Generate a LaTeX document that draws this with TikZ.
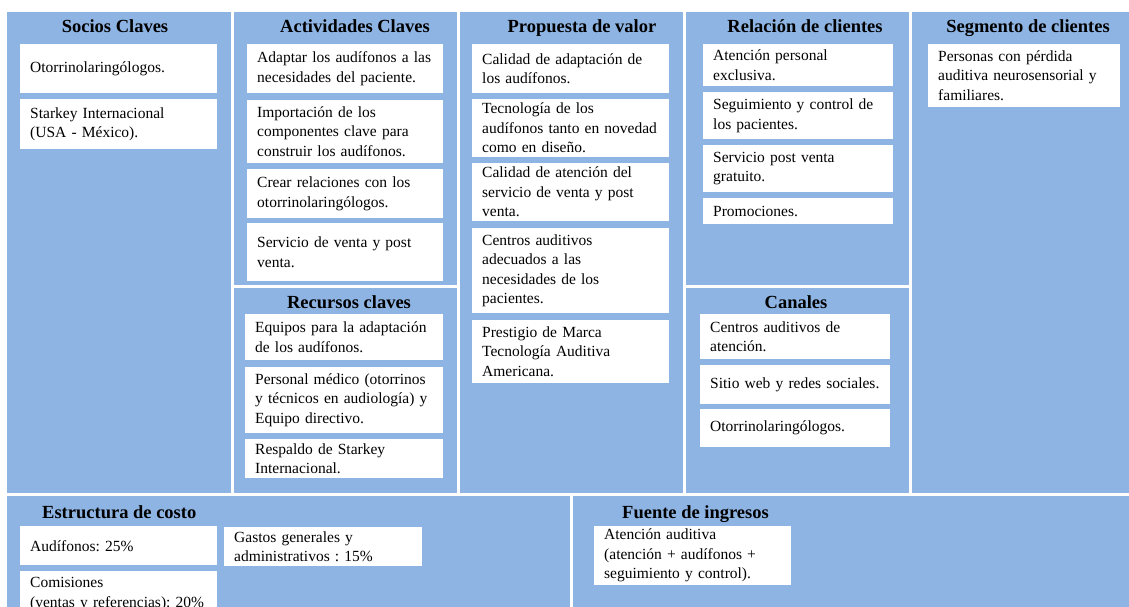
\documentclass[tikz,border=0pt]{standalone}
\usepackage{fontspec}
\setmainfont{Liberation Serif}
\frenchspacing
\definecolor{panelblue}{RGB}{142,180,227}

\begin{document}
\begin{tikzpicture}[x=1pt,y=-1pt,
  panel/.style={fill=panelblue},
  title/.style={font=\bfseries\fontsize{18.5}{22}\selectfont,inner sep=0pt,anchor=base},
  item/.style={fill=white,anchor=north west,inner xsep=10pt,inner ysep=0pt,
    align=left,text width=177pt,font=\fontsize{15.5}{19.5}\selectfont},
  narrow/.style={item,text width=170pt}]

\clip (0,0) rectangle (1129,607);

%draw panels
  \foreach \xa/\ya/\xb/\yb in {7/12/231/493, 234/12/457/285, 234/288/457/493,
      460/12/683/493, 686/12/909/285, 686/288/909/493, 912/12/1129/493,
      7/496/570/607, 573/496/1129/607}
    \fill[panel] (\xa,\ya) rectangle (\xb,\yb);

%socios claves
  \node[title] (tsocios) at (115,33) {Socios Claves};
  \node[item,minimum height=49pt] (socio1) at (20,44) {Otorrinolaringólogos.};
  \node[item,minimum height=50pt] (socio2) at (20,99) {Starkey Internacional\\(USA - México).};

%actividades claves
  \node[title] (tactiv) at (355,33) {Actividades Claves};
  \node[item,text width=176pt,minimum height=49pt] (activ1) at (247,44) {Adaptar los audífonos a las\\necesidades del paciente.};
  \node[item,text width=176pt,minimum height=63pt] (activ2) at (247,100) {Importación de los\\componentes clave para\\construir los audífonos.};
  \node[item,text width=176pt,minimum height=49pt] (activ3) at (247,169) {Crear relaciones con los\\otorrinolaringólogos.};
  \node[item,text width=176pt,minimum height=58pt] (activ4) at (247,223) {Servicio de venta y post\\venta.};

%recursos claves
  \node[title] (trecur) at (349,308) {Recursos claves};
  \node[item,text width=178pt,minimum height=46pt] (recur1) at (245,314) {Equipos para la adaptación\\de los audífonos.};
  \node[item,text width=178pt,minimum height=66pt] (recur2) at (245,367) {Personal médico (otorrinos\\y técnicos en audiología) y\\Equipo directivo.};
  \node[item,text width=178pt,minimum height=39pt] (recur3) at (245,439) {Respaldo de Starkey\\Internacional.};

%propuesta de valor
  \node[title] (tprop) at (582,33) {Propuesta de valor};
  \node[item,minimum height=49pt] (prop1) at (472,44) {Calidad de adaptación de\\los audífonos.};
  \node[item,minimum height=58pt] (prop2) at (472,99) {Tecnología de los\\audífonos tanto en novedad\\como en diseño.};
  \node[item,minimum height=58pt] (prop3) at (472,163) {Calidad de atención del\\servicio de venta y post\\venta.};
  \node[item,minimum height=85pt] (prop4) at (472,228) {Centros auditivos\\adecuados a las\\necesidades de los\\pacientes.};
  \node[item,minimum height=63pt] (prop5) at (472,320) {Prestigio de Marca\\Tecnología Auditiva\\Americana.};

%relacion de clientes
  \node[title] (trel) at (805,33) {Relación de clientes};
  \node[narrow,minimum height=42pt] (rel1) at (703,44) {Atención personal\\exclusiva.};
  \node[narrow,minimum height=47pt] (rel2) at (703,92) {Seguimiento y control de\\los pacientes.};
  \node[narrow,minimum height=47pt] (rel3) at (703,145) {Servicio post venta\\gratuito.};
  \node[narrow,minimum height=26pt] (rel4) at (703,198) {Promociones.};

%canales
  \node[title] (tcan) at (796,308) {Canales};
  \node[narrow,minimum height=45pt] (can1) at (700,314) {Centros auditivos de\\atención.};
  \node[narrow,minimum height=39pt] (can2) at (700,365) {Sitio web y redes sociales.};
  \node[narrow,minimum height=38pt] (can3) at (700,409) {Otorrinolaringólogos.};

%segmento de clientes
  \node[title] (tseg) at (1028,33) {Segmento de clientes};
  \node[item,text width=172pt,minimum height=63pt] (seg1) at (928,44) {Personas con pérdida\\auditiva neurosensorial y\\familiares.};

%estructura de costo
  \node[title,anchor=base west] (test) at (42,518) {Estructura de costo};
  \node[item,minimum height=39pt] (est1) at (20,526) {Audífonos: 25\%};
  \node[item,minimum height=46pt] (est2) at (20,571) {Comisiones\\(ventas y referencias): 20\%};
  \node[item,text width=178pt,minimum height=39pt] (est3) at (224,527) {Gastos generales y\\administrativos : 15\%};

%fuente de ingresos
  \node[title,anchor=base west] (tfue) at (622,518) {Fuente de ingresos};
  \node[item,minimum height=59pt] (fue1) at (594,526) {Atención auditiva\\(atención + audífonos +\\seguimiento y control).};

\end{tikzpicture}
\end{document}
